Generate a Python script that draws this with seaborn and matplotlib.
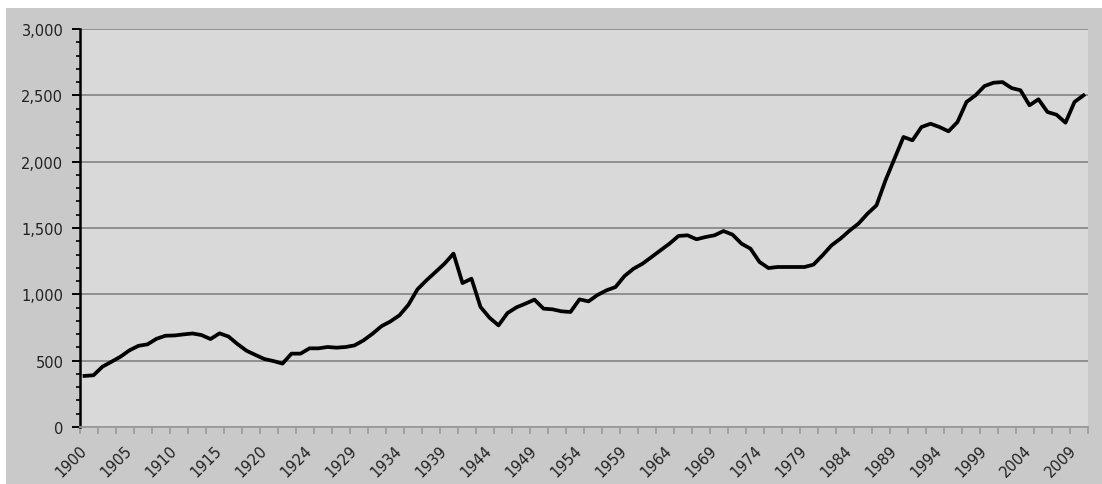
import matplotlib
matplotlib.use("Agg")
import matplotlib.pyplot as plt
from matplotlib.patches import Rectangle
from matplotlib.ticker import FixedLocator, FuncFormatter, MultipleLocator
import numpy as np
import pandas as pd
import seaborn as sns

# Annual series, one value per category on the horizontal axis
values = [
    385, 390, 455, 492, 530, 578, 612, 623, 665, 688,
    690, 698, 705, 693, 663, 706, 682, 625, 575, 543,
    512, 497, 478, 553, 553, 593, 593, 603, 598, 603,
    615, 653, 703, 760, 796, 842, 922, 1038, 1106, 1168,
    1231, 1307, 1085, 1118, 905, 824, 766, 859, 902, 930,
    960, 892, 887, 872, 867, 962, 947, 995, 1030, 1055,
    1138, 1193, 1231, 1281, 1332, 1382, 1440, 1445, 1415, 1432,
    1445, 1477, 1450, 1382, 1344, 1244, 1198, 1206, 1206, 1206,
    1206, 1224, 1294, 1369, 1420, 1480, 1533, 1608, 1671, 1859,
    2023, 2186, 2161, 2261, 2286, 2261, 2229, 2299, 2450, 2500,
    2570, 2595, 2600, 2555, 2538, 2425, 2470, 2374, 2354, 2294,
    2450, 2500,
]

# Category labels shown every fifth category
tick_labels = [
    "1900", "1905", "1910", "1915", "1920", "1924", "1929", "1934",
    "1939", "1944", "1949", "1954", "1959", "1964", "1969", "1974",
    "1979", "1984", "1989", "1994", "1999", "2004", "2009",
]
label_step = 5
tick_step = 2

y_ticks = [0, 500, 1000, 1500, 2000, 2500, 3000]

df = pd.DataFrame({"pos": np.arange(len(values)), "value": values})
n = len(values)

W, H, DPI = 1102, 485, 100
fig = plt.figure(figsize=(W / DPI, H / DPI), dpi=DPI, facecolor="white")

# grey chart frame behind the plot area
frame = Rectangle((6 / W, 0), 1 - 6 / W, (H - 9) / H,
                  transform=fig.transFigure, facecolor="#c9c9c9",
                  edgecolor="none", zorder=-10)
fig.patches.append(frame)

ax = fig.add_axes([80 / W, (H - 428) / H, (1088 - 80) / W, (428 - 30) / H])
ax.set_zorder(1)
ax.set_facecolor("#d9d9d9")

sns.lineplot(data=df, x="pos", y="value", ax=ax, color="black",
             linewidth=2.7, zorder=3)

ax.set_xlim(-0.5, n - 0.5)
ax.set_ylim(0, 3000)

# y axis
ax.yaxis.set_major_locator(FixedLocator(y_ticks))
ax.yaxis.set_minor_locator(MultipleLocator(100))
ax.yaxis.set_major_formatter(FuncFormatter(lambda v, p: f"{int(v):,}"))
ax.tick_params(axis="y", which="major", direction="out", length=6, width=1.4,
               color="black", labelsize=10.5, labelcolor="#222222", pad=6)
ax.tick_params(axis="y", which="minor", direction="out", length=3, width=1.2,
               color="black")
ax.grid(axis="y", which="major", color="#8a8a8a", linewidth=1.3, zorder=1)
ax.set_axisbelow(True)

# x axis: labels at category centres, ticks at category boundaries
label_pos = list(range(0, n, label_step))[:len(tick_labels)]
ax.xaxis.set_major_locator(FixedLocator(label_pos))
ax.set_xticklabels(tick_labels)
ax.xaxis.set_minor_locator(FixedLocator(np.arange(-0.5, n, tick_step)))
ax.tick_params(axis="x", which="major", length=0, labelsize=10.5,
               labelcolor="#222222", pad=15)
ax.tick_params(axis="x", which="minor", direction="out", length=5, width=1.2,
               color="#9a9a9a")
for lbl in ax.get_xticklabels():
    lbl.set_rotation(45)
    lbl.set_ha("right")
    lbl.set_va("center")
    lbl.set_rotation_mode("anchor")

ax.set_xlabel("")
ax.set_ylabel("")

for side in ("top", "right"):
    ax.spines[side].set_visible(False)
ax.spines["left"].set_color("black")
ax.spines["left"].set_linewidth(1.8)
ax.spines["bottom"].set_color("#9a9a9a")
ax.spines["bottom"].set_linewidth(1.3)

fig.savefig("out.png", dpi=DPI, facecolor=fig.get_facecolor())
